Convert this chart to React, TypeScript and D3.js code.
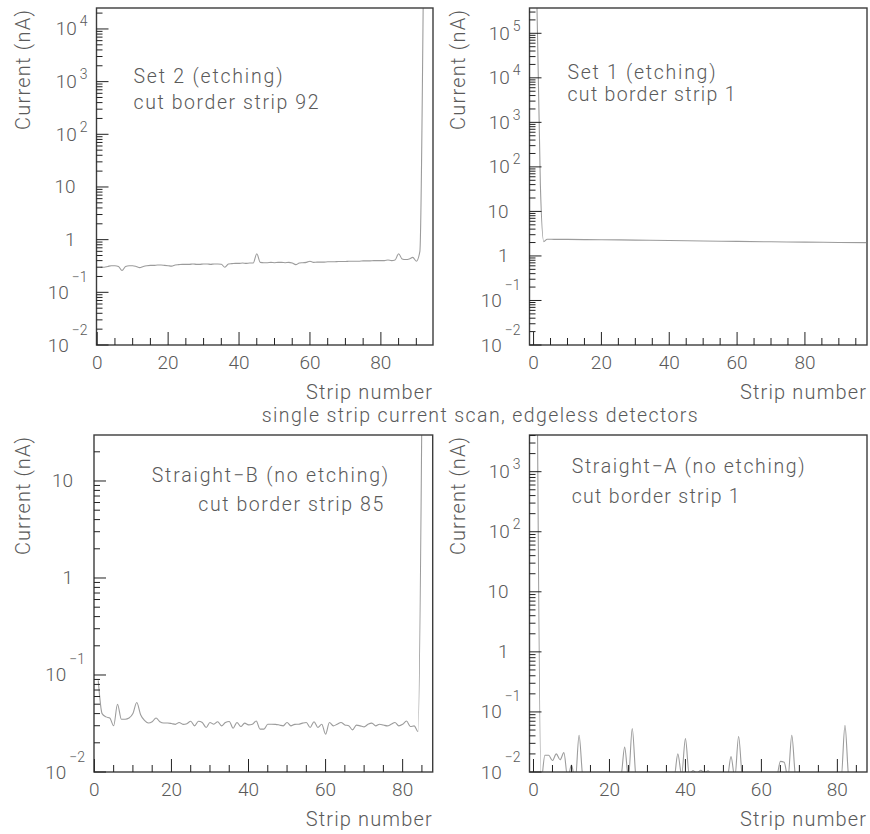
import React, { useEffect, useRef } from 'react';
import * as d3 from 'd3';

// tick labels on every strip axis
const stripTicks = [0, 20, 40, 60, 80];

// Set 2 (etching): current (nA) of strips 1..92
const set2Current = [
	0.30, 0.30, 0.31, 0.32, 0.32, 0.31, 0.26, 0.31, 0.32, 0.32,
	0.31, 0.295, 0.31, 0.32, 0.325, 0.325, 0.33, 0.33, 0.325, 0.32,
	0.315, 0.33, 0.335, 0.34, 0.34, 0.34, 0.345, 0.34, 0.34, 0.345,
	0.345, 0.34, 0.345, 0.345, 0.34, 0.30, 0.345, 0.35, 0.355, 0.355,
	0.36, 0.355, 0.36, 0.36, 0.54, 0.37, 0.365, 0.365, 0.37, 0.365,
	0.37, 0.37, 0.365, 0.37, 0.36, 0.335, 0.36, 0.365, 0.37, 0.39,
	0.37, 0.375, 0.375, 0.375, 0.38, 0.38, 0.38, 0.385, 0.385, 0.385,
	0.39, 0.39, 0.39, 0.39, 0.395, 0.395, 0.395, 0.40, 0.40, 0.40,
	0.40, 0.41, 0.40, 0.41, 0.54, 0.43, 0.42, 0.43, 0.46, 0.39,
	0.6, 1e5
];

// Set 1 (etching): read at selected strips
const set1Strips = [1, 2, 3, 4, 6, 10, 15, 20, 30, 40, 50, 60, 70, 80, 90, 98];
const set1Current = [4e5, 40, 2.1, 2.37, 2.36, 2.35, 2.33, 2.31, 2.27, 2.22, 2.17, 2.12, 2.08, 2.04, 2.01, 1.99];

// Straight-B (no etching): strips 1..85
const straightBCurrent = [
	0.088, 0.040, 0.037, 0.036, 0.030, 0.050, 0.035, 0.035, 0.036, 0.040,
	0.052, 0.039, 0.034, 0.032, 0.033, 0.036, 0.033, 0.032, 0.032, 0.0316,
	0.031, 0.0324, 0.031, 0.0315, 0.0333, 0.0299, 0.0334, 0.0324, 0.0288, 0.0324,
	0.0311, 0.033, 0.0299, 0.0324, 0.0332, 0.0283, 0.0324, 0.0294, 0.0319, 0.0306,
	0.031, 0.0335, 0.0277, 0.0277, 0.0311, 0.0311, 0.031, 0.0305, 0.0299, 0.0324,
	0.0299, 0.031, 0.0311, 0.0319, 0.0324, 0.0288, 0.033, 0.0288, 0.0311, 0.0245,
	0.0324, 0.0299, 0.0311, 0.0324, 0.0306, 0.030, 0.0272, 0.0304, 0.0299, 0.0292,
	0.031, 0.0319, 0.0299, 0.0311, 0.0305, 0.0299, 0.031, 0.0324, 0.0299, 0.031,
	0.0335, 0.0294, 0.0299, 0.026, 60
];

// Straight-A (no etching): strips 1..86
const straightACurrent = [
	2e4, 0.007, 0.019, 0.019, 0.0155, 0.020, 0.016, 0.021, 0.008, 0.013,
	0.007, 0.041, 0.008, 0.006, 0.007, 0.005, 0.006, 0.007, 0.006, 0.005,
	0.006, 0.007, 0.008, 0.026, 0.008, 0.053, 0.008, 0.006, 0.007, 0.006,
	0.005, 0.006, 0.007, 0.006, 0.007, 0.008, 0.008, 0.020, 0.009, 0.036,
	0.009, 0.0106, 0.0095, 0.0107, 0.0098, 0.0105, 0.008, 0.006, 0.007, 0.008,
	0.008, 0.018, 0.008, 0.039, 0.008, 0.006, 0.007, 0.006, 0.005, 0.006,
	0.007, 0.006, 0.007, 0.008, 0.015, 0.0145, 0.008, 0.041, 0.008, 0.006,
	0.007, 0.006, 0.005, 0.006, 0.007, 0.006, 0.007, 0.006, 0.007, 0.008,
	0.008, 0.060, 0.008, 0.006, 0.007, 0.006
];

const stripsOf = (arr) => arr.map((_, i) => i + 1);

const FONT = 'Roboto, "Liberation Sans", Arial, sans-serif';
const TEXT = '#5a5a5a';

const panels = [
	{
		strips: stripsOf(set2Current), current: set2Current,
		left: 96.5, right: 433, top: 8, bottom: 345,
		xDomain: [-0.2, 94.7], yDomain: [0.01, 2.5e4], titleX: 30, titleLen: 120,
		notes: [
			{ text: 'Set 2 (etching)', x: 133.5, y: 82.5, len: 149 },
			{ text: 'cut border strip 92', x: 133.5, y: 109, len: 185 }
		]
	},
	{
		strips: set1Strips, current: set1Current,
		left: 529.5, right: 867, top: 8, bottom: 345,
		xDomain: [-1.2, 98.3], yDomain: [0.01, 3.7e5], titleX: 465, titleLen: 120,
		notes: [
			{ text: 'Set 1 (etching)', x: 567.5, y: 79, len: 148 },
			{ text: 'cut border strip 1', x: 567.5, y: 101, len: 168 }
		]
	},
	{
		strips: stripsOf(straightBCurrent), current: straightBCurrent,
		left: 94, right: 432.7, top: 435, bottom: 772,
		xDomain: [-0.1, 87.8], yDomain: [0.01, 29.8], titleX: 30, titleLen: 118,
		notes: [
			{ text: 'Straight\u2212B (no etching)', x: 151.7, y: 481.5, len: 236.5 },
			{ text: 'cut border strip 85', x: 198.3, y: 511, len: 185 }
		]
	},
	{
		strips: stripsOf(straightACurrent), current: straightACurrent,
		left: 529.5, right: 867, top: 435, bottom: 772,
		xDomain: [-1.05, 87.8], yDomain: [0.01, 4080], titleX: 465, titleLen: 118,
		notes: [
			{ text: 'Straight\u2212A (no etching)', x: 571.7, y: 472.5, len: 233 },
			{ text: 'cut border strip 1', x: 571.7, y: 503, len: 168 }
		]
	}
];

function drawPanel(svg, p, i) {
	const x = d3.scaleLinear().domain(p.xDomain).range([p.left, p.right]);
	const y = d3.scaleLog().domain(p.yDomain).range([p.bottom, p.top]);
	const g = svg.append('g');

	const clipId = 'clip-' + i;
	g.append('clipPath')
		.attr('id', clipId)
		.append('rect')
		.attr('x', p.left)
		.attr('y', p.top)
		.attr('width', p.right - p.left)
		.attr('height', p.bottom - p.top);

	const pts = p.strips.map((s, k) => [s, p.current[k]]);
	const line = d3
		.line()
		.x(d => x(d[0]))
		.y(d => y(d[1]))
		.curve(d3.curveMonotoneX);

	g.append('path')
		.attr('d', line(pts))
		.attr('clip-path', `url(#${clipId})`)
		.attr('fill', 'none')
		.attr('stroke', '#9c9c9c')
		.attr('stroke-width', 1.1);

	g.append('rect')
		.attr('x', p.left)
		.attr('y', p.top)
		.attr('width', p.right - p.left)
		.attr('height', p.bottom - p.top)
		.attr('fill', 'none')
		.attr('stroke', '#3c3c3c')
		.attr('stroke-width', 1.4);

	// x ticks, every 5 strips, long ones at the labels
	d3.range(0, p.xDomain[1], 5).forEach(v => {
		const major = v % 20 === 0;
		g.append('line')
			.attr('x1', x(v))
			.attr('x2', x(v))
			.attr('y1', p.bottom)
			.attr('y2', p.bottom - (major ? 13 : 7))
			.attr('stroke', '#222')
			.attr('stroke-width', 1);
	});
	stripTicks.forEach(v => {
		g.append('text')
			.attr('x', x(v))
			.attr('y', p.bottom + 23.5)
			.attr('text-anchor', 'middle')
			.attr('font-size', 19)
			.attr('fill', TEXT)
			.text(v);
	});

	// log y ticks
	const [y0, y1] = p.yDomain;
	const kMin = Math.floor(Math.log10(y0));
	const kMax = Math.ceil(Math.log10(y1));
	for (let k = kMin; k <= kMax; k++) {
		for (let m = 1; m <= 9; m++) {
			const v = m * Math.pow(10, k);
			if (v < y0 * 0.999 || v > y1) continue;
			g.append('line')
				.attr('x1', p.left)
				.attr('x2', p.left + (m === 1 ? 12 : 6))
				.attr('y1', y(v))
				.attr('y2', y(v))
				.attr('stroke', '#222')
				.attr('stroke-width', 1);
		}
		const v = Math.pow(10, k);
		if (v < y0 * 0.999 || v > y1) continue;
		const plain = k === 0 || k === 1;
		const t = g
			.append('text')
			.attr('x', plain ? p.left - 21 : p.left - 9)
			.attr('y', y(v) + 6.5)
			.attr('text-anchor', 'end')
			.attr('font-size', 19)
			.attr('fill', TEXT);
		if (k === 0) t.text('1');
		else if (k === 1) t.text('10');
		else {
			t.append('tspan').text('10');
			t.append('tspan')
				.attr('dx', 3)
				.attr('dy', k > 0 ? -9 : -17)
				.attr('font-size', 14)
				.text(k < 0 ? '\u2212' + -k : String(k));
		}
	}

	// axis titles
	g.append('text')
		.attr('transform', `translate(${p.titleX},${p.top + 2}) rotate(-90)`)
		.attr('text-anchor', 'end')
		.attr('font-size', 20)
		.attr('fill', TEXT)
		.attr('textLength', p.titleLen)
		.attr('lengthAdjust', 'spacing')
		.text('Current (nA)');

	g.append('text')
		.attr('x', p.right - 1)
		.attr('y', p.bottom + 54)
		.attr('text-anchor', 'end')
		.attr('font-size', 20)
		.attr('fill', TEXT)
		.attr('textLength', 126)
		.attr('lengthAdjust', 'spacing')
		.text('Strip number');

	p.notes.forEach(n => {
		g.append('text')
			.attr('x', n.x)
			.attr('y', n.y)
			.attr('font-size', 19.5)
			.attr('fill', TEXT)
			.attr('textLength', n.len)
			.attr('lengthAdjust', 'spacing')
			.text(n.text);
	});
}

export default function App() {
	const node = useRef(null);

	useEffect(() => {
		const svg = d3.select(node.current);
		svg.selectAll('*').remove();
		panels.forEach((p, i) => drawPanel(svg, p, i));

		svg.append('text')
			.attr('x', 261.7)
			.attr('y', 422)
			.attr('font-size', 19.5)
			.attr('fill', TEXT)
			.attr('textLength', 436)
			.attr('lengthAdjust', 'spacing')
			.text('single strip current scan, edgeless detectors');
	}, []);

	return (
		<svg
			ref={node}
			width={870}
			height={834}
			style={{ position: 'absolute', left: 0, top: 0, background: '#fff' }}
			fontFamily={FONT}
			fontWeight={300}
		/>
	);
}
